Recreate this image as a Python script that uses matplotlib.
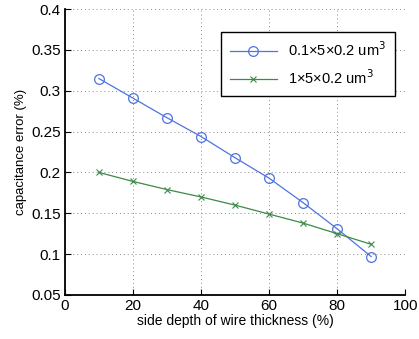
import matplotlib.pyplot as plt
import numpy as np

plt.rcParams['font.family'] = ['Liberation Sans', 'DejaVu Sans']

depth = [10, 20, 30, 40, 50, 60, 70, 80, 90]
err_thin = [0.315, 0.291, 0.267, 0.244, 0.218, 0.193, 0.163, 0.131, 0.097]
err_thick = [0.200, 0.189, 0.179, 0.170, 0.160, 0.149, 0.138, 0.125, 0.112]

fig = plt.figure(figsize=(4.19, 3.39), dpi=100)
ax = fig.add_axes([0.155, 0.13, 0.812, 0.843])

ax.plot(depth, err_thin, color='#4f73e0', lw=0.9, marker='o', ms=7,
        mfc='none', mec='#4f73e0', mew=0.9, label='0.1\u00d75\u00d70.2 um$^3$')
ax.plot(depth, err_thick, color='#3c8a46', lw=0.9, marker='x', ms=5,
        mew=0.8, label='1\u00d75\u00d70.2 um$^3$')

ax.set_xlim(0, 100)
ax.set_ylim(0.05, 0.4)
ax.set_xticks([0, 20, 40, 60, 80, 100])
ax.set_yticks([0.05, 0.1, 0.15, 0.2, 0.25, 0.3, 0.35, 0.4])
ax.set_yticklabels(['0.05', '0.1', '0.15', '0.2', '0.25', '0.3', '0.35', '0.4'])
ax.grid(True, linestyle=(0, (1, 3)), color='#8a8a8a', lw=0.7)
ax.spines['top'].set_visible(False)
ax.spines['right'].set_visible(False)
ax.spines['left'].set_linewidth(1.3)
ax.spines['bottom'].set_linewidth(1.3)
ax.tick_params(direction='in', labelsize=11, length=4, pad=3)

ax.set_xlabel('side depth of wire thickness (%)', fontsize=10, labelpad=1)
ax.set_ylabel('capacitance error (%)', fontsize=9.5, labelpad=3)

leg = ax.legend(loc='upper right', bbox_to_anchor=(0.97, 0.92), borderaxespad=0,
                fontsize=10.5, fancybox=False, framealpha=1, edgecolor='black',
                handlelength=3.2, borderpad=0.6, labelspacing=0.6)
leg.get_frame().set_linewidth(1.0)

plt.savefig('out.png', dpi=100)
